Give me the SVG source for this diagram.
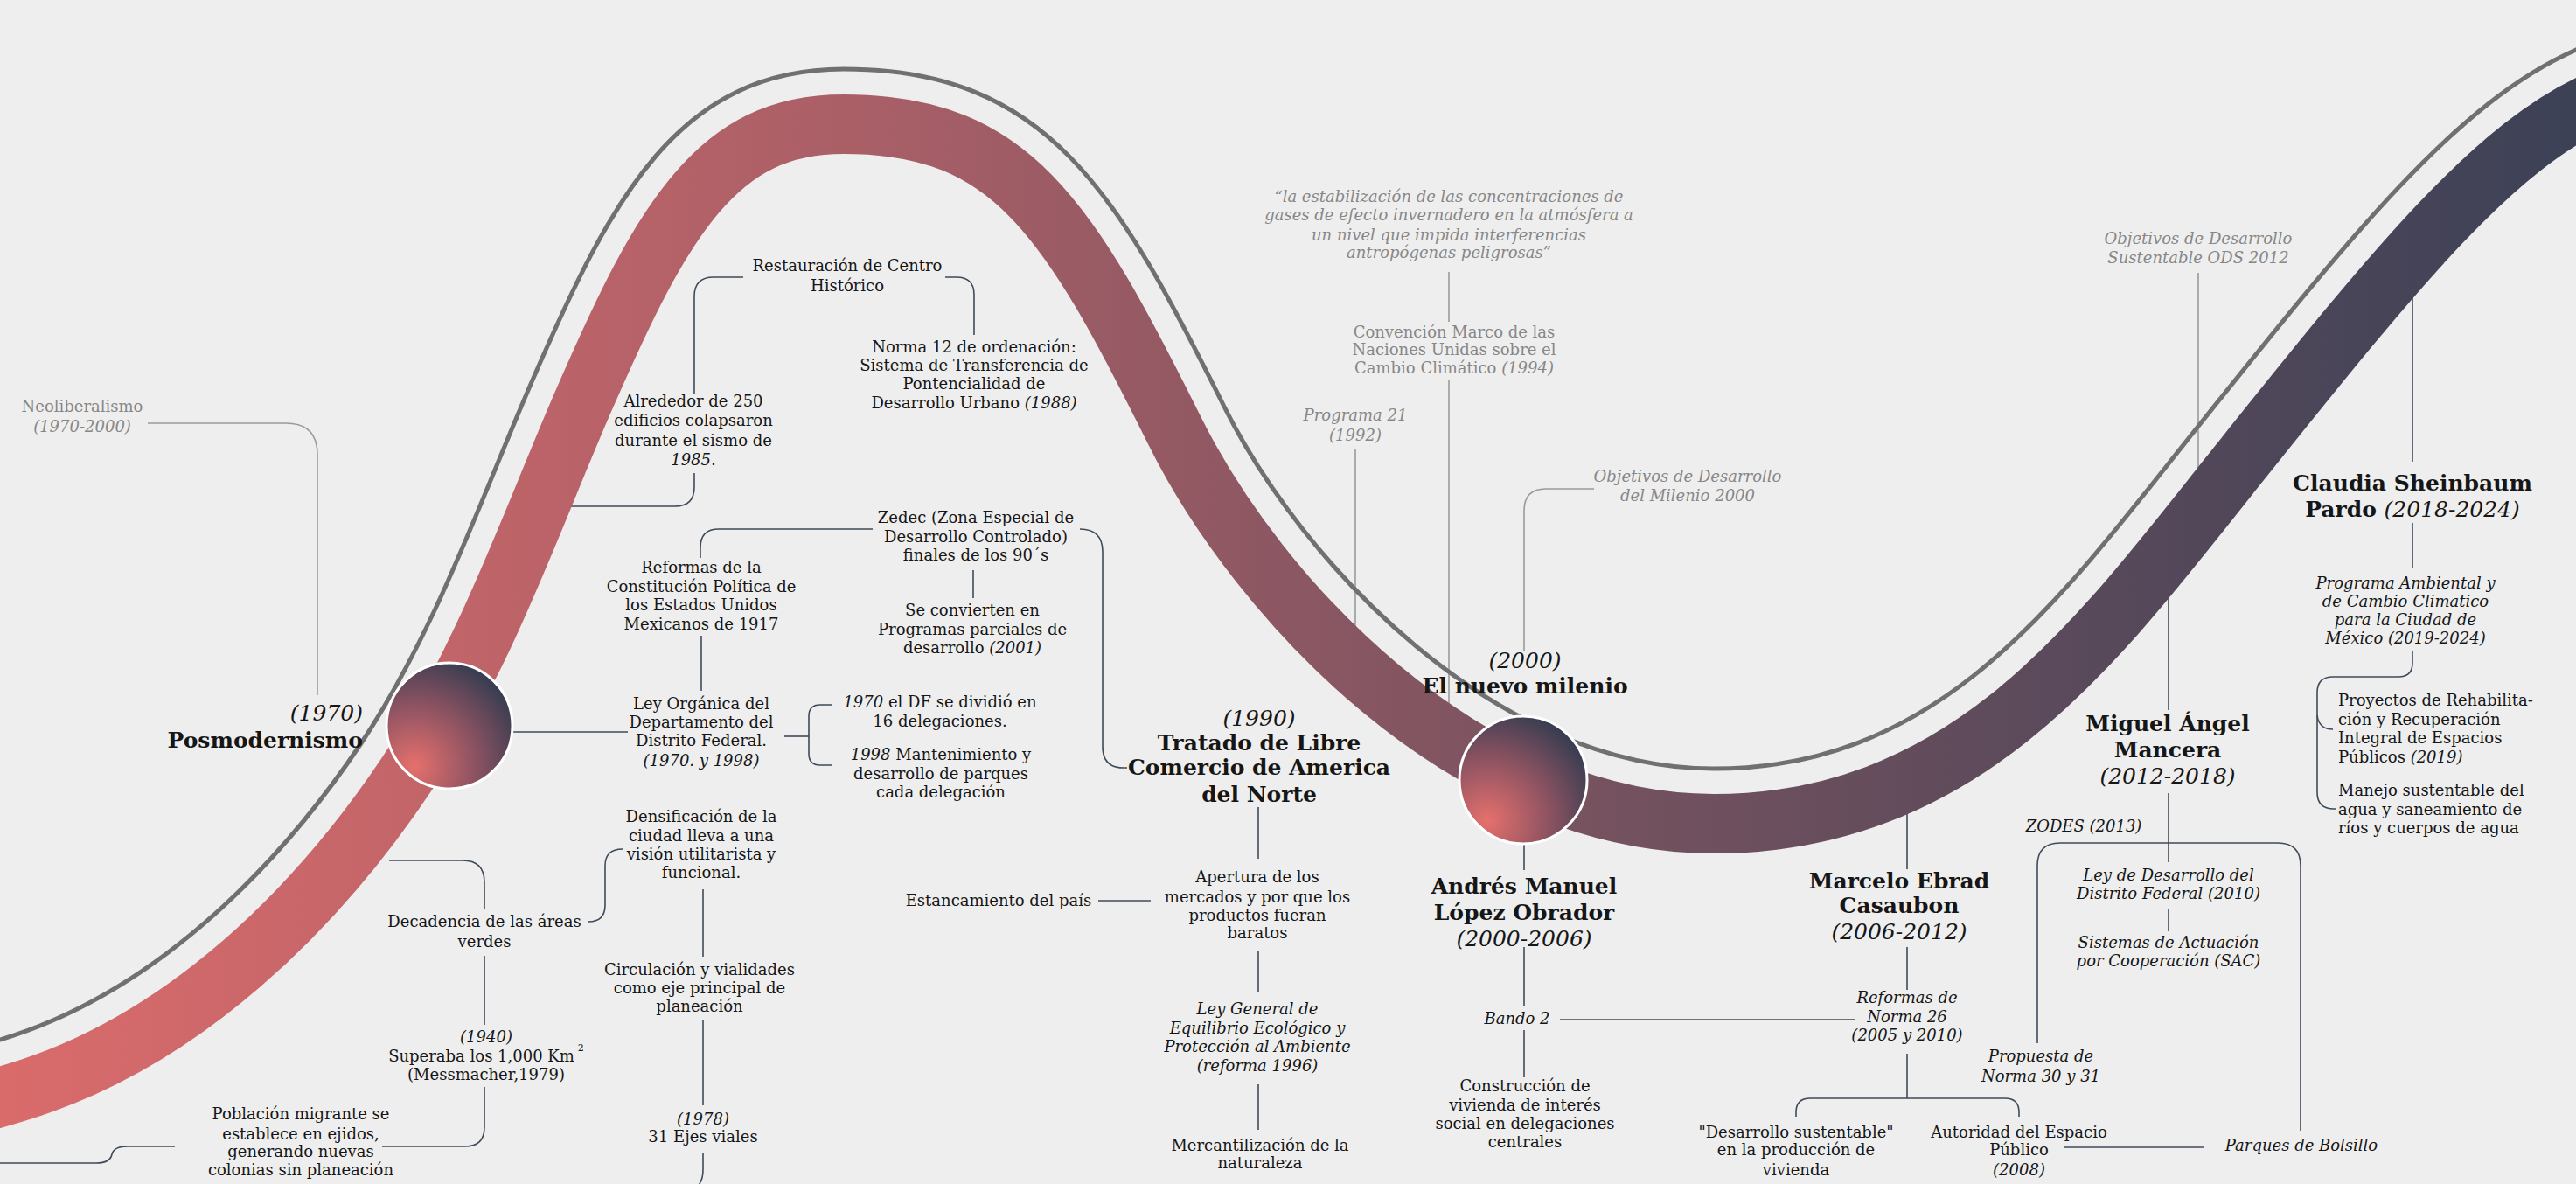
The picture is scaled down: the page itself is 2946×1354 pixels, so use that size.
<svg xmlns="http://www.w3.org/2000/svg" width="2946" height="1354" viewBox="0 0 2946 1354">
<defs>
<style>
text { font-family: "DejaVu Serif", "Liberation Serif", serif; font-size: 18px; fill: #161616; text-anchor: middle; }
.g { fill: #878787; }
.i { font-style: italic; }
.b { font-size: 25px; font-weight: bold; }
.y { font-size: 25px; font-style: italic; }
.s { text-anchor: start; }
.e { text-anchor: end; }
.c { fill: none; stroke: #3f4a5a; stroke-width: 1.6; }
.cg { fill: none; stroke: #9a9a9a; stroke-width: 1.6; }
.dot { fill: url(#dotg); stroke: #ffffff; stroke-width: 3; }
</style>
<linearGradient id="rib" gradientUnits="userSpaceOnUse" x1="0" y1="0" x2="2946" y2="0">
<stop offset="0" stop-color="#da6b6b"/>
<stop offset="0.33" stop-color="#aa5f67"/>
<stop offset="0.66" stop-color="#6f505e"/>
<stop offset="1" stop-color="#3c4156"/>
</linearGradient>
<radialGradient id="dotg" cx="0.22" cy="0.82" r="1" fx="0.22" fy="0.82">
<stop offset="0" stop-color="#e6706d"/>
<stop offset="0.5" stop-color="#8a5261"/>
<stop offset="1" stop-color="#25384d"/>
</radialGradient>
<path id="curve" d="M -200 1249 L 0 1189 C 171 1138 314 998 413 850 C 499 721 549 572 611 430 C 699 228 775 79 965 79 C 1198 79 1278 220 1400 465 C 1489 644 1710 879 1960 879 C 2216 879 2351 692 2500 505 C 2687 271 2809 117 2946 57 L 3150 -33"/>
<mask id="ribmask" maskUnits="userSpaceOnUse" x="-300" y="-300" width="3600" height="2000">
<path fill="#fff" d="M -200 1249 L 0 1189 C 171 1138 314 998 413 850 C 499 721 549 572 611 430 C 699 228 775 79 965 79 C 1198 79 1278 220 1400 465 C 1489 644 1710 879 1960 879 C 2216 879 2351 692 2500 505 C 2687 271 2809 117 2946 57 L 3150 -33 L 3150 1500 L -200 1500 Z"/>
<use href="#curve" fill="none" stroke="#000" stroke-width="58"/>
</mask>
</defs>
<rect x="0" y="0" width="2946" height="1354" fill="#eeeeee"/>

<g id="connectors">
<path class="cg" d="M 169 484 H 327 Q 363 484 363 520 V 795"/>
<path class="c" d="M 850 317 H 816 Q 794 317 794 339 V 450"/>
<path class="c" d="M 794 541 V 557 Q 794 579 772 579 H 640"/>
<path class="c" d="M 1081 317 H 1094 Q 1114 317 1114 337 V 383"/>
<path class="c" d="M 998 605 H 822 Q 801 605 801 626 V 638"/>
<path class="c" d="M 802 727 V 790"/>
<path class="c" d="M 560 837 H 718"/>
<path class="c" d="M 897 842 H 925"/>
<path class="c" d="M 951 806 H 938 Q 925 806 925 819 V 862 Q 925 875 938 875 H 951"/>
<path class="c" d="M 1235 605 Q 1261 605 1261 631 V 854 Q 1261 878 1285 878 H 1289"/>
<path class="c" d="M 1113 652 V 684"/>
<path class="c" d="M 1439 923 V 982"/>
<path class="c" d="M 1256 1030 H 1316"/>
<path class="c" d="M 1439 1088 V 1135"/>
<path class="c" d="M 1439 1240 V 1292"/>
<path class="c" d="M 445 984 H 529 Q 554 984 554 1009 V 1040"/>
<path class="c" d="M 554 1093 V 1172"/>
<path class="c" d="M 554 1243 V 1289 Q 554 1311 532 1311 H 437"/>
<path class="c" d="M 200 1311 H 146 Q 130 1311 128 1320 Q 126 1330 110 1330 H -5"/>
<path class="c" d="M 673 1054 Q 692 1054 692 1035 V 990 Q 692 971 712 971"/>
<path class="c" d="M 804 1017 V 1094"/>
<path class="c" d="M 804 1166 V 1264"/>
<path class="c" d="M 804 1318 V 1338 Q 804 1354 792 1362"/>
<path class="cg" d="M 1550 514 V 760"/>
<path class="cg" d="M 1657 311 V 368"/>
<path class="cg" d="M 1657 435 V 830"/>
<path class="cg" d="M 1823 559 H 1768 Q 1743 559 1743 584 V 745"/>
<path class="c" d="M 1743 950 V 995"/>
<path class="c" d="M 1743 1083 V 1150"/>
<path class="c" d="M 1743 1178 V 1232"/>
<path class="c" d="M 1784 1166 H 2121"/>
<path class="c" d="M 2181 900 V 994"/>
<path class="c" d="M 2181 1083 V 1132"/>
<path class="c" d="M 2181 1205 V 1256"/>
<path class="c" d="M 2054 1277 V 1272 Q 2054 1256 2070 1256 H 2293 Q 2309 1256 2309 1272 V 1277"/>
<path class="c" d="M 2360 1312 H 2521"/>
<path class="c" d="M 2330 1193 V 990 Q 2330 964 2356 964 H 2605 Q 2631 964 2631 990 V 1293"/>
<path class="c" d="M 2480 650 V 812"/>
<path class="c" d="M 2480 907 V 986"/>
<path class="c" d="M 2480 1040 V 1065"/>
<path class="cg" d="M 2514 312 V 560"/>
<path class="c" d="M 2759 300 V 528"/>
<path class="c" d="M 2759 598 V 650"/>
<path class="c" d="M 2759 745 V 758 Q 2759 774 2743 774 H 2668 Q 2650 774 2650 792 V 906 Q 2650 925 2669 925 H 2672"/>
<path class="c" d="M 2650 818 Q 2652 834 2668 834"/>
</g>

<g id="timeline">
<use href="#curve" fill="none" stroke="url(#rib)" stroke-width="194" mask="url(#ribmask)"/>
<use href="#curve" fill="none" stroke="#707070" stroke-width="5"/>
</g>

<g id="dot-1970"><circle class="dot" cx="514" cy="830" r="72"/></g>
<g id="dot-2000"><circle class="dot" cx="1742" cy="892" r="73"/></g>

<g id="neoliberalismo"><text class="g" x="94" y="471">Neoliberalismo</text><text class="g i" x="94" y="494">(1970-2000)</text></g>
<g id="posmodernismo"><text class="y e" x="415" y="824">(1970)</text><text class="b e" x="415" y="855">Posmodernismo</text></g>
<g id="restauracion"><text x="969" y="310">Restauración de Centro</text><text x="969" y="333">Histórico</text></g>
<g id="norma12"><text x="1114" y="403">Norma 12 de ordenación:</text><text x="1114" y="424">Sistema de Transferencia de</text><text x="1114" y="445">Pontencialidad de</text><text x="1114" y="467">Desarrollo Urbano <tspan class="i">(1988)</tspan></text></g>
<g id="sismo"><text x="793" y="465">Alrededor de 250</text><text x="793" y="487">edificios colapsaron</text><text x="793" y="510">durante el sismo de</text><text x="793" y="532"><tspan class="i">1985</tspan>.</text></g>
<g id="zedec"><text x="1116" y="598">Zedec (Zona Especial de</text><text x="1116" y="620">Desarrollo Controlado)</text><text x="1116" y="641">finales de los 90´s</text></g>
<g id="reformas-constitucion"><text x="802" y="655">Reformas de la</text><text x="802" y="677">Constitución Política de</text><text x="802" y="698">los Estados Unidos</text><text x="802" y="720">Mexicanos de 1917</text></g>
<g id="programas-parciales"><text x="1112" y="704">Se convierten en</text><text x="1112" y="726">Programas parciales de</text><text x="1112" y="747">desarrollo <tspan class="i">(2001)</tspan></text></g>
<g id="ley-organica"><text x="802" y="811">Ley Orgánica del</text><text x="802" y="832">Departamento del</text><text x="802" y="853">Distrito Federal.</text><text class="i" x="802" y="876">(1970. y 1998)</text></g>
<g id="delegaciones"><text x="1075" y="809"><tspan class="i">1970</tspan> el DF se dividió en</text><text x="1075" y="831">16 delegaciones.</text></g>
<g id="parques"><text x="1076" y="869"><tspan class="i">1998</tspan> Mantenimiento y</text><text x="1076" y="891">desarrollo de parques</text><text x="1076" y="912">cada delegación</text></g>
<g id="tlcan"><text class="y" x="1440" y="830">(1990)</text><text class="b" x="1440" y="858">Tratado de Libre</text><text class="b" x="1440" y="886">Comercio de America</text><text class="b" x="1440" y="917">del Norte</text></g>
<g id="densificacion"><text x="802" y="940">Densificación de la</text><text x="802" y="962">ciudad lleva a una</text><text x="802" y="983">visión utilitarista y</text><text x="802" y="1004">funcional.</text></g>
<g id="decadencia"><text x="554" y="1060">Decadencia de las áreas</text><text x="554" y="1083">verdes</text></g>
<g id="circulacion"><text x="800" y="1115">Circulación y vialidades</text><text x="800" y="1136">como eje principal de</text><text x="800" y="1157">planeación</text></g>
<g id="superficie"><text class="i" x="556" y="1192">(1940)</text><text x="556" y="1214">Superaba los 1,000 Km<tspan font-size="11" dx="4" dy="-12">2</tspan></text><text x="556" y="1235">(Messmacher,1979)</text></g>
<g id="ejes"><text class="i" x="804" y="1286">(1978)</text><text x="804" y="1306">31 Ejes viales</text></g>
<g id="migrante"><text x="344" y="1280">Población migrante se</text><text x="344" y="1303">establece en ejidos,</text><text x="344" y="1323">generando nuevas</text><text x="344" y="1344">colonias sin planeación</text></g>
<g id="estancamiento"><text x="1142" y="1036">Estancamiento del país</text></g>
<g id="apertura"><text x="1438" y="1009">Apertura de los</text><text x="1438" y="1032">mercados y por que los</text><text x="1438" y="1053">productos fueran</text><text x="1438" y="1073">baratos</text></g>
<g id="lgeepa"><text class="i" x="1438" y="1160">Ley General de</text><text class="i" x="1438" y="1182">Equilibrio Ecológico y</text><text class="i" x="1438" y="1203">Protección al Ambiente</text><text class="i" x="1438" y="1225">(reforma 1996)</text></g>
<g id="mercantilizacion"><text x="1441" y="1316">Mercantilización de la</text><text x="1441" y="1336">naturaleza</text></g>
<g id="cita"><text class="g i" x="1657" y="231">“la estabilización de las concentraciones de</text><text class="g i" x="1657" y="252">gases de efecto invernadero en la atmósfera a</text><text class="g i" x="1657" y="275">un nivel que impida interferencias</text><text class="g i" x="1657" y="295">antropógenas peligrosas”</text></g>
<g id="convencion"><text class="g" x="1663" y="386">Convención Marco de las</text><text class="g" x="1663" y="406">Naciones Unidas sobre el</text><text class="g" x="1663" y="427">Cambio Climático <tspan class="i">(1994)</tspan></text></g>
<g id="programa21"><text class="g i" x="1550" y="481">Programa 21</text><text class="g i" x="1550" y="504">(1992)</text></g>
<g id="odm"><text class="g i" x="1930" y="551">Objetivos de Desarrollo</text><text class="g i" x="1930" y="573">del Milenio 2000</text></g>
<g id="milenio"><text class="y" x="1744" y="764">(2000)</text><text class="b" x="1744" y="793">El nuevo milenio</text></g>
<g id="amlo"><text class="b" x="1743" y="1022">Andrés Manuel</text><text class="b" x="1743" y="1052">López Obrador</text><text class="y" x="1743" y="1082">(2000-2006)</text></g>
<g id="bando2"><text class="i" x="1735" y="1171">Bando 2</text></g>
<g id="vivienda-social"><text x="1744" y="1248">Construcción de</text><text x="1744" y="1270">vivienda de interés</text><text x="1744" y="1291">social en delegaciones</text><text x="1744" y="1312">centrales</text></g>
<g id="ebrard"><text class="b" x="2172" y="1016">Marcelo Ebrad</text><text class="b" x="2172" y="1044">Casaubon</text><text class="y" x="2172" y="1074">(2006-2012)</text></g>
<g id="norma26"><text class="i" x="2181" y="1147">Reformas de</text><text class="i" x="2181" y="1169">Norma 26</text><text class="i" x="2181" y="1190">(2005 y 2010)</text></g>
<g id="desarrollo-sustentable"><text x="2054" y="1301">"Desarrollo sustentable"</text><text x="2054" y="1321">en la producción de</text><text x="2054" y="1344">vivienda</text></g>
<g id="aep"><text x="2309" y="1301">Autoridad del Espacio</text><text x="2309" y="1321">Público</text><text class="i" x="2309" y="1344">(2008)</text></g>
<g id="parques-bolsillo"><text class="i" x="2632" y="1316">Parques de Bolsillo</text></g>
<g id="norma30"><text class="i" x="2334" y="1214">Propuesta de</text><text class="i" x="2334" y="1237">Norma 30 y 31</text></g>
<g id="zodes"><text class="i" x="2383" y="951">ZODES (2013)</text></g>
<g id="ley-desarrollo"><text class="i" x="2480" y="1007">Ley de Desarrollo del</text><text class="i" x="2480" y="1028">Distrito Federal (2010)</text></g>
<g id="sac"><text class="i" x="2480" y="1084">Sistemas de Actuación</text><text class="i" x="2480" y="1105">por Cooperación (SAC)</text></g>
<g id="mancera"><text class="b" x="2479" y="836">Miguel Ángel</text><text class="b" x="2479" y="866">Mancera</text><text class="y" x="2479" y="896">(2012-2018)</text></g>
<g id="ods"><text class="g i" x="2514" y="279">Objetivos de Desarrollo</text><text class="g i" x="2514" y="301">Sustentable ODS 2012</text></g>
<g id="sheinbaum"><text class="b" x="2759" y="561">Claudia Sheinbaum</text><text class="b" x="2759" y="591">Pardo <tspan font-weight="normal" font-style="italic">(2018-2024)</tspan></text></g>
<g id="programa-ambiental"><text class="i" x="2751" y="673">Programa Ambiental y</text><text class="i" x="2751" y="694">de Cambio Climatico</text><text class="i" x="2751" y="715">para la Ciudad de</text><text class="i" x="2751" y="736">México (2019-2024)</text></g>
<g id="espacios-publicos"><text class="s" x="2674" y="807">Proyectos de Rehabilita-</text><text class="s" x="2674" y="829">ción y Recuperación</text><text class="s" x="2674" y="850">Integral de Espacios</text><text class="s" x="2674" y="872">Públicos <tspan class="i">(2019)</tspan></text></g>
<g id="agua"><text class="s" x="2674" y="910">Manejo sustentable del</text><text class="s" x="2674" y="932">agua y saneamiento de</text><text class="s" x="2674" y="953">ríos y cuerpos de agua</text></g>
</svg>
